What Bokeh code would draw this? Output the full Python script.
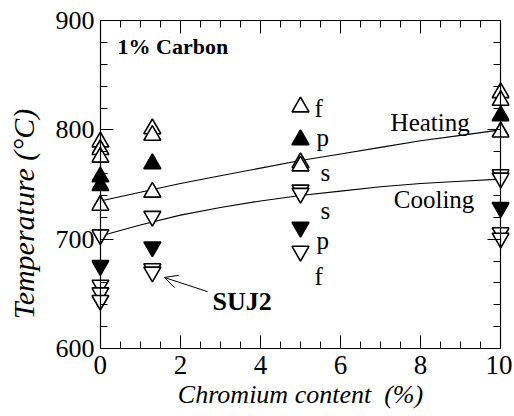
from bokeh.plotting import figure
from bokeh.models import (Range1d, LinearAxis, SingleIntervalTicker, Arrow, OpenHead,
                          CustomLabelingPolicy)
from bokeh.embed import file_html
from bokeh.resources import INLINE
from bokeh.core.properties import value

FONT = "Liberation Serif"

# ---- data ----
heat_open_x = [0, 0, 0, 0, 1.3, 1.3, 1.3, 5, 5, 5, 10, 10, 10]
heat_open_t = [789, 782, 775, 731, 801, 795, 743, 821, 770, 767, 834, 827, 798]
heat_fill_x = [0, 0, 1.3, 5, 10]
heat_fill_t = [757, 749, 769, 791, 813]
cool_open_x = [0, 0, 0, 0, 1.3, 1.3, 1.3, 5, 5, 5, 10, 10, 10, 10]
cool_open_t = [704, 658, 651, 644, 721, 673, 670, 745, 742, 689, 759, 756, 706, 701]
cool_fill_x = [0, 1.3, 5, 10]
cool_fill_t = [676, 693, 711, 729]

curve_x = [0, 1, 2, 3, 4, 5, 6, 7, 8, 9, 10]
heating_curve = [735, 743, 751, 758, 765, 772, 778, 784, 790, 795, 800]
cooling_curve = [703, 713, 722, 729, 735, 740, 744, 748, 751, 753, 755]

mode_labels = ["f", "p", "s", "s", "p", "f"]
mode_x = [5.35, 5.4, 5.5, 5.5, 5.4, 5.35]
mode_t = [820, 793, 761, 726, 699, 666]

W, H = 512, 414
p = figure(width=W, height=H,
           x_range=Range1d(-0.22, 10.22), y_range=Range1d(600, 901),
           output_backend="svg", toolbar_location=None,
           x_axis_location=None, y_axis_location=None,
           min_border_left=91, min_border_right=3,
           min_border_top=19, min_border_bottom=66)
p.outline_line_color = None
p.grid.visible = False
p.background_fill_color = "white"
p.border_fill_color = "white"

NO_LABELS = CustomLabelingPolicy(code="""
for (const i of indices)
  indices.unset(i)
""")


def style_axis(ax):
    ax.axis_line_color = "black"
    ax.axis_line_width = 1.2
    ax.major_tick_in = 13
    ax.major_tick_out = 0
    ax.minor_tick_in = 7
    ax.minor_tick_out = 0
    ax.major_tick_line_color = "black"
    ax.minor_tick_line_color = "black"
    ax.major_label_text_font = FONT
    ax.major_label_text_font_size = "27px"
    ax.major_label_text_color = "black"
    ax.axis_label_text_font = FONT
    ax.axis_label_text_font_style = "italic"
    ax.axis_label_text_font_size = "26px"
    ax.axis_label_text_color = "black"


def xticker():
    return SingleIntervalTicker(interval=2, num_minor_ticks=4)


def yticker():
    return SingleIntervalTicker(interval=100, num_minor_ticks=5)


# bottom axis: line, ticks and labels
bottom = LinearAxis(ticker=xticker(), bounds=(0, 10),
                    axis_label="Chromium content\u00a0\u00a0(%)")
style_axis(bottom)
bottom.major_label_standoff = 7
bottom.axis_label_standoff = 3
p.add_layout(bottom, "below")

# top axis: line and ticks only
top = LinearAxis(ticker=xticker(), fixed_location=900, bounds=(0, 10),
                 major_label_policy=NO_LABELS)
style_axis(top)
p.add_layout(top, "above")

# left axis line + ticks at x = 0
left_line = LinearAxis(ticker=yticker(), fixed_location=0, bounds=(600, 900),
                       major_label_policy=NO_LABELS)
style_axis(left_line)
p.add_layout(left_line, "left")

# left tick labels + title (trailing spaces move the title toward the bottom)
left_lab = LinearAxis(ticker=yticker(), bounds=(600, 900),
                      axis_label="Temperature (\u00b0C)" + "\u00a0" * 8)
style_axis(left_lab)
left_lab.axis_line_color = None
left_lab.major_tick_line_color = None
left_lab.minor_tick_line_color = None
left_lab.major_label_text_font_size = "26px"
left_lab.major_label_standoff = -3
left_lab.axis_label_standoff = 13
left_lab.axis_label_text_font_size = "30px"
p.add_layout(left_lab, "left")

# right axis line + ticks at x = 10
right = LinearAxis(ticker=yticker(), fixed_location=10, bounds=(600, 900),
                   major_label_policy=NO_LABELS)
style_axis(right)
p.add_layout(right, "right")

# curves
p.line(curve_x, heating_curve, line_color="black", line_width=1.1)
p.line(curve_x, cooling_curve, line_color="black", line_width=1.1)

# markers
p.scatter(heat_open_x, heat_open_t, marker="triangle", size=17,
          fill_color="white", line_color="black", line_width=1.6)
p.scatter(heat_fill_x, heat_fill_t, marker="triangle", size=17,
          fill_color="black", line_color="black", line_width=1.6)
p.scatter(cool_open_x, cool_open_t, marker="inverted_triangle", size=17,
          fill_color="white", line_color="black", line_width=1.6)
p.scatter(cool_fill_x, cool_fill_t, marker="inverted_triangle", size=17,
          fill_color="black", line_color="black", line_width=1.6)

# texts
p.text(mode_x, mode_t, text=mode_labels, text_font=value(FONT),
       text_font_size="25px", text_baseline="alphabetic", text_align="left",
       text_color="black")
p.text([7.25, 7.33], [807, 736], text=["Heating", "Cooling"], text_font=value(FONT),
       text_font_size="25px", text_baseline="alphabetic", text_align="left",
       text_color="black")
p.text([0.43], [876], text=["1% Carbon"], text_font=value(FONT),
       text_font_size="22px", text_font_style="bold", text_baseline="alphabetic",
       text_align="left", text_color="black")
p.text([2.8], [643], text=["SUJ2"], text_font=value(FONT),
       text_font_size="26px", text_font_style="bold", text_baseline="alphabetic",
       text_align="left", text_color="black")

p.add_layout(Arrow(end=OpenHead(size=13, line_width=1, line_color="black"),
                   x_start=2.68, y_start=652, x_end=1.6, y_end=665,
                   line_color="black", line_width=1))

open("out.html", "w").write(file_html(p, INLINE))
